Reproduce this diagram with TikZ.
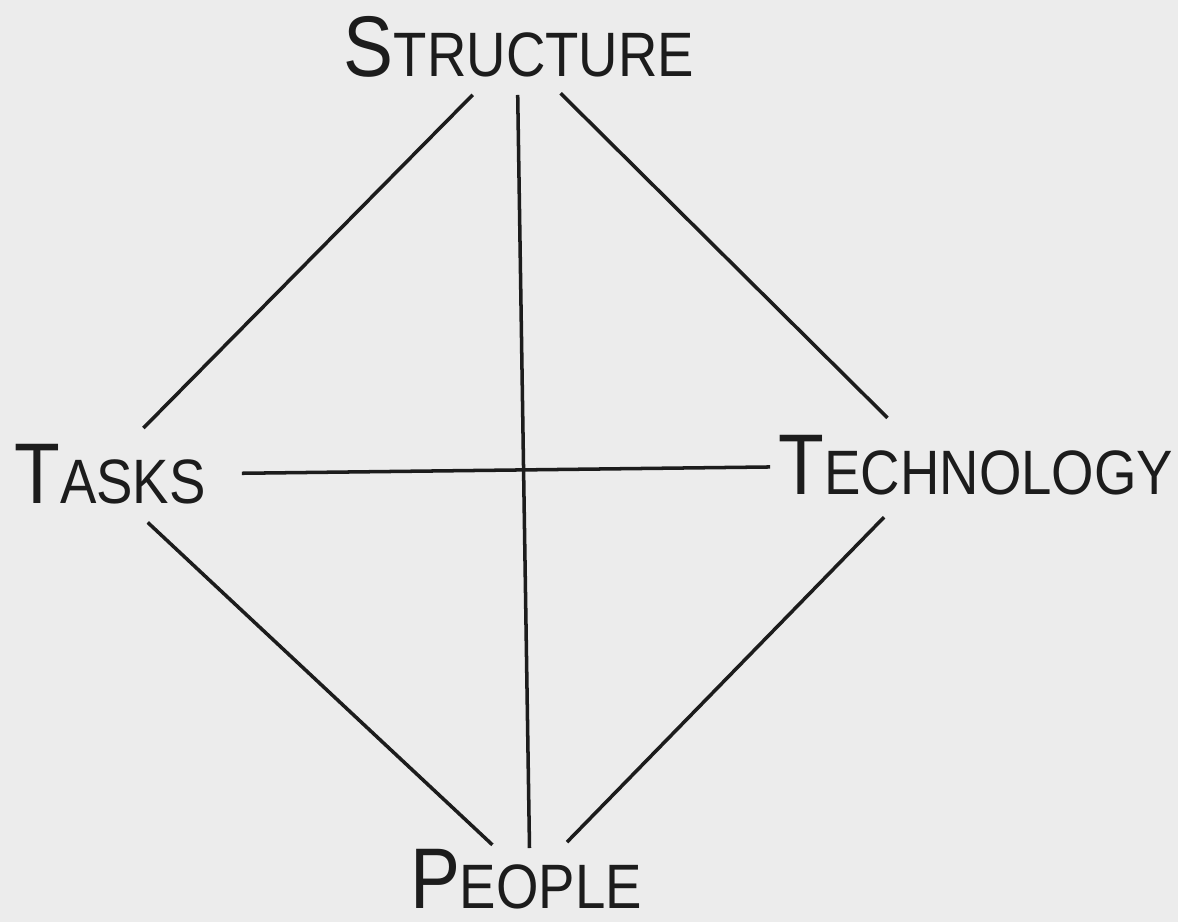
\documentclass[tikz,border=0pt]{standalone}
\usepackage{fontspec}
\setmainfont{Liberation Sans}
\usepackage{xcolor}
\definecolor{paper}{HTML}{ECECEC}
\definecolor{ink}{HTML}{1C1C1C}
% big initial + smaller capitals, slightly condensed
\newcommand{\capword}[2]{\scalebox{0.87}[1]{\fontsize{49}{50}\selectfont #1\fontsize{35.7}{40}\selectfont #2}}

\begin{document}
\begin{tikzpicture}[
  x=0.02cm, y=-0.02cm,
  label/.style={inner sep=0pt, text=ink, anchor=center},
  link/.style={draw=ink, line width=2pt}
]
\fill[paper] (0,0) rectangle (1178,922);
\node[label] (structure) at (519,47) {\capword{S}{TRUCTURE}};
\node[label] (tasks) at (110,474) {\capword{T}{ASKS}};
\node[label] (technology) at (976,465) {\capword{T}{ECHNOLOGY}};
\node[label] (people) at (526,879) {\capword{P}{EOPLE}};
\draw[link, shorten <=1.26cm, shorten >=1.32cm]
  ([shift={(-2,3)}]structure.center) -- ([shift={(-13,1)}]tasks.center);
\draw[link, shorten <=0.9cm, shorten >=0.64cm]
  ([shift={(-2,3)}]structure.center) -- ([shift={(4,1)}]people.center);
\draw[link, shorten <=1.23cm, shorten >=1.34cm]
  ([shift={(-2,3)}]structure.center) -- ([shift={(-41,0)}]technology.center);
\draw[link, shorten <=2.9cm, shorten >=3.3cm]
  ([shift={(-13,1)}]tasks.center) -- ([shift={(-41,0)}]technology.center);
\draw[link, shorten <=1.39cm, shorten >=1.03cm]
  ([shift={(-13,1)}]tasks.center) -- ([shift={(4,1)}]people.center);
\draw[link, shorten <=1.46cm, shorten >=1.06cm]
  ([shift={(-41,0)}]technology.center) -- ([shift={(4,1)}]people.center);
\end{tikzpicture}
\end{document}
